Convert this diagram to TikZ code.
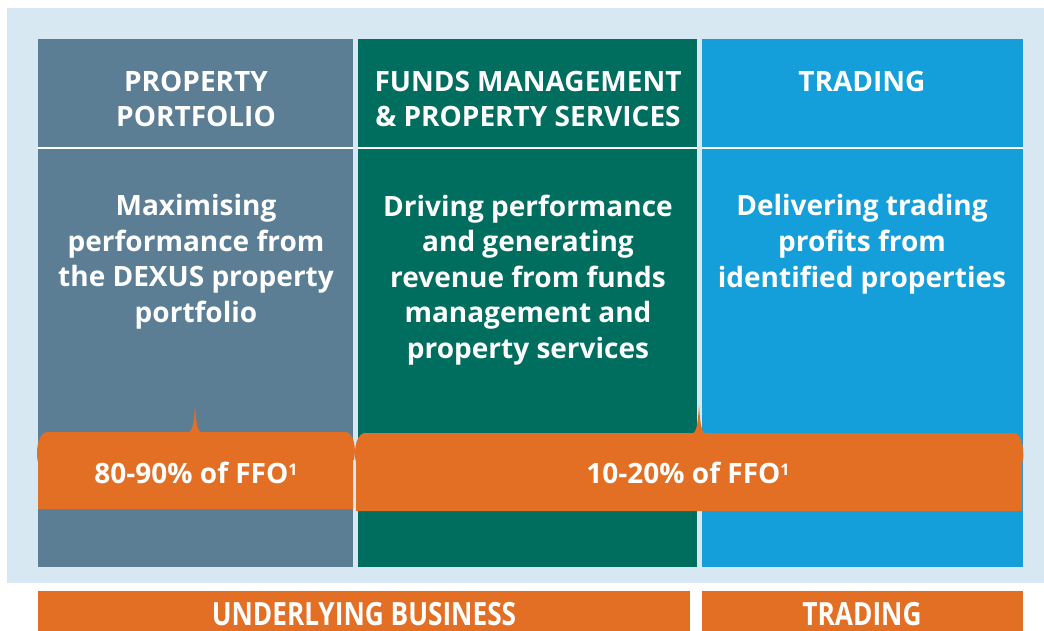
\documentclass[tikz,border=0pt]{standalone}
\usepackage{fontspec}
\setmainfont{Open Sans}
\usepackage{tikz}
\usepackage{color}

\definecolor{bgblue}{HTML}{D8E8F2}
\definecolor{portblue}{HTML}{5B7E95}
\definecolor{fundgreen}{HTML}{006E5F}
\definecolor{tradeblue}{HTML}{149FDA}
\definecolor{ffoorange}{HTML}{E26F24}

\newcommand{\ffonote}{{\fontsize{16}{16}\selectfont\raisebox{8pt}{1}}}

\tikzset{
  coltext/.style={white, anchor=base, align=center, inner sep=0pt,
    font=\bfseries\fontsize{28}{35.5}\selectfont},
  bartext/.style={white, anchor=base, inner sep=0pt,
    font=\bfseries\fontsize{32}{36}\selectfont}
}

\begin{document}
\begin{tikzpicture}[x=1pt,y=-1pt]
\useasboundingbox (0,0) rectangle (1044,631);
%background
\fill [bgblue] (7,8) rectangle (1044,583);
%columns
\fill [portblue] (38,39) rectangle (353,567);
\fill [fundgreen] (358,39) rectangle (697,567);
\fill [tradeblue] (702,39) rectangle (1023,567);
%header rules
\draw [white, line width=2.5] (38,148) -- (353,148);
\draw [white, line width=2.5] (358,148) -- (697,148);
\draw [white, line width=2.5] (702,148) -- (1023,148);
%headers (base = last line)
\node [coltext] (hdport) at (196,127) {PROPERTY\\PORTFOLIO};
\node [coltext] (hdfund) at (528,127) {FUNDS MANAGEMENT\\\& PROPERTY SERVICES};
\node [coltext] (hdtrade) at (862,92) {TRADING};
%descriptions
\node [coltext] (txtport) at (196,322) {Maximising\\performance from\\the DEXUS property\\portfolio};
\node [coltext] (txtfund) at (528,358) {Driving performance\\and generating\\revenue from funds\\management and\\property services};
\node [coltext] (txttrade) at (862,287) {Delivering trading\\profits from\\identified properties};
%ffo braces
\fill [ffoorange] (38,509) -- (38,462) .. controls (36,456) and (36,436) .. (46,432)
  -- (189,432) .. controls (193,431) and (194,420) .. (195,405)
  .. controls (196,420) and (197,431) .. (201,432)
  -- (346,432) .. controls (355,434) and (356,450) .. (354,460)
  -- (353,460) -- (353,509) -- cycle;
\fill [ffoorange] (356,511) -- (356,462) .. controls (354,456) and (354,436) .. (364,433)
  -- (693,433) .. controls (697,432) and (698,420) .. (699,405)
  .. controls (700,420) and (701,432) .. (705,433)
  -- (1014,433) .. controls (1023,435) and (1024,450) .. (1023,462)
  -- (1022,462) -- (1022,511) -- cycle;
\node [coltext] (ffoport) at (196,483) {80-90\% of FFO\ffonote};
\node [coltext] (ffofund) at (688,483) {10-20\% of FFO\ffonote};
%segment bars
\fill [ffoorange] (38,591) rectangle (690,631);
\fill [ffoorange] (702,591) rectangle (1023,631);
\node [bartext] (barunder) at (364,625) {\scalebox{0.82}[1]{UNDERLYING BUSINESS}};
\node [bartext] (bartrade) at (862,625) {\scalebox{0.82}[1]{TRADING}};
\end{tikzpicture}
\end{document}
